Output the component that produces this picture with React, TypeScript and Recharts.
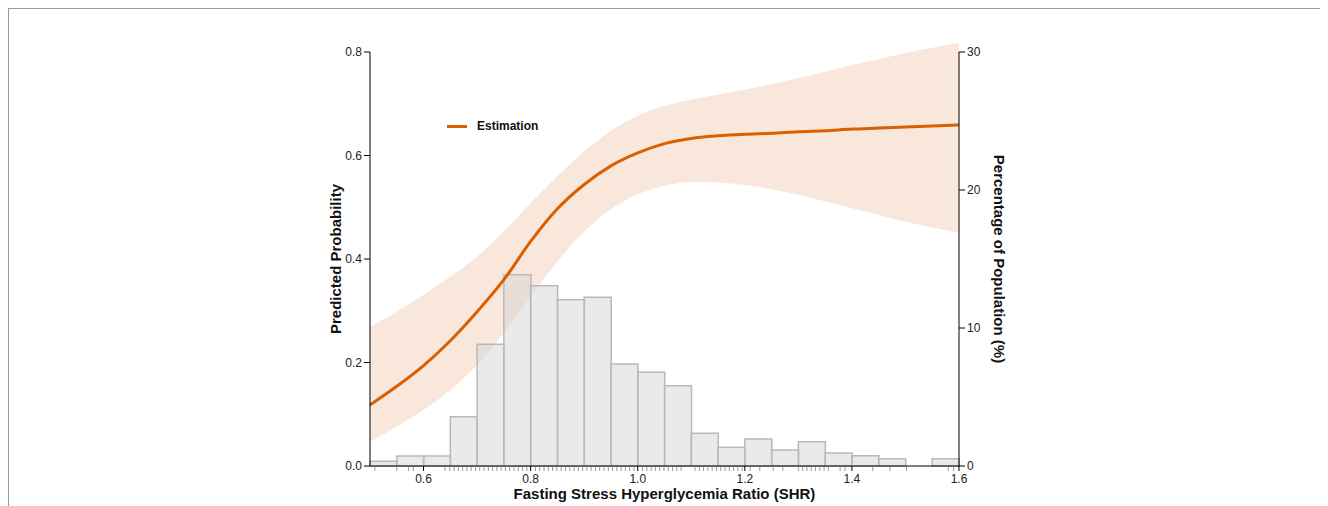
import { Area, Bar, ComposedChart, Label, Legend, Line, XAxis, YAxis } from "recharts";

// predicted probability curve + 95% band, sampled along SHR
const shr = [0.5, 0.55, 0.6, 0.65, 0.7, 0.75, 0.8, 0.85, 0.9, 0.95, 1.0, 1.05, 1.1, 1.15, 1.2, 1.25, 1.3, 1.35, 1.4, 1.45, 1.5, 1.55, 1.6];
const estimate = [0.118, 0.154, 0.194, 0.242, 0.298, 0.36, 0.434, 0.497, 0.544, 0.58, 0.605, 0.623, 0.633, 0.638, 0.641, 0.643, 0.646, 0.648, 0.651, 0.653, 0.655, 0.657, 0.659];
const upper = [0.269, 0.298, 0.331, 0.366, 0.405, 0.453, 0.508, 0.56, 0.608, 0.648, 0.677, 0.696, 0.708, 0.718, 0.727, 0.738, 0.75, 0.762, 0.775, 0.786, 0.798, 0.808, 0.818];
const lower = [0.047, 0.076, 0.108, 0.147, 0.195, 0.257, 0.327, 0.395, 0.453, 0.496, 0.525, 0.541, 0.549, 0.548, 0.543, 0.535, 0.524, 0.511, 0.498, 0.485, 0.472, 0.461, 0.451];

// histogram (bin centres, % of population)
const binCenters = [0.525, 0.575, 0.625, 0.675, 0.725, 0.775, 0.825, 0.875, 0.925, 0.975, 1.025, 1.075, 1.125, 1.175, 1.225, 1.275, 1.325, 1.375, 1.425, 1.475, 1.525, 1.575];
const binPct = [0.34, 0.72, 0.72, 3.57, 8.82, 13.86, 13.07, 12.05, 12.22, 7.39, 6.79, 5.82, 2.37, 1.36, 1.96, 1.16, 1.76, 0.94, 0.75, 0.53, 0, 0.53];

// axis ticks and rug marks
const xMajor = [0.6, 0.8, 1.0, 1.2, 1.4, 1.6];
const rug = [
  0.509, 0.55, 0.572, 0.581, 0.64, 0.649, 0.657, 0.665, 0.673, 0.681, 0.689, 0.697, 0.705, 0.713, 0.721, 0.729,
  0.737, 0.745, 0.753, 0.761, 0.769, 0.777, 0.785, 0.793, 0.809, 0.817, 0.825, 0.833, 0.841, 0.849, 0.857,
  0.865, 0.873, 0.881, 0.889, 0.897, 0.905, 0.913, 0.921, 0.929, 0.937, 0.945, 0.953, 0.961, 0.969, 0.977,
  0.985, 0.993, 1.009, 1.017, 1.025, 1.033, 1.041, 1.049, 1.057, 1.065, 1.073, 1.081, 1.107, 1.115, 1.123,
  1.131, 1.139, 1.147, 1.155, 1.163, 1.171, 1.179, 1.187, 1.195, 1.21, 1.228, 1.253, 1.271, 1.3, 1.308,
  1.316, 1.324, 1.332, 1.34, 1.348, 1.356, 1.378, 1.387, 1.439, 1.471, 1.502, 1.58, 1.59,
];
const leftTicks = [0, 0.2, 0.4, 0.6, 0.8];
const rightTicks = [0, 10, 20, 30];

const curveData = shr.map((x, i) => ({ x, est: estimate[i], band: [lower[i], upper[i]] }));
const histData = binCenters.map((x, i) => ({ x, pct: binPct[i] }));

const FONT = '"Liberation Sans", Arial, Helvetica, sans-serif';
const ORANGE = "#d95f02";
const titleStyle = { fontSize: 15, fontWeight: "bold", fill: "#111", fontFamily: FONT };

function XTick(props: any) {
  const { x, y, payload } = props;
  const v = payload.value;
  const axisY = y - 8;
  if (xMajor.includes(v)) {
    return (
      <g>
        <line x1={x} x2={x} y1={axisY} y2={axisY + 5} stroke="#000" />
        <text x={x} y={axisY + 17} textAnchor="middle" fontSize={12} fill="#222" fontFamily={FONT}>
          {v.toFixed(1)}
        </text>
      </g>
    );
  }
  return <line x1={x} x2={x} y1={axisY + 1} y2={axisY + 5} stroke="#9a9a9a" />;
}

function LegendBox() {
  return (
    <div style={{ display: "flex", alignItems: "center", fontFamily: FONT, height: 16 }}>
      <div style={{ width: 20, height: 3, background: ORANGE }} />
      <span style={{ marginLeft: 10, fontSize: 12, fontWeight: "bold", color: "#111" }}>Estimation</span>
    </div>
  );
}

export default function App() {
  return (
    <div style={{ borderTop: "1px solid #999", borderLeft: "1px solid #999", width: 1320, height: 498 }}>
      {/* the confidence band runs past 0.8 at the right edge, as in the source figure */}
      <style>{`.recharts-area, .recharts-area * { clip-path: none !important; }`}</style>
      <ComposedChart
        width={1311}
        height={497}
        data={histData}
        margin={{ top: 43, right: 301, bottom: 0, left: 301 }}
        barCategoryGap={0}
        barGap={0}
        style={{ fontFamily: FONT }}
      >
        <XAxis xAxisId="bins" dataKey="x" type="number" domain={[0.5, 1.6]} orientation="top" height={0} hide />
        <XAxis
          xAxisId="x"
          dataKey="x"
          type="number"
          domain={[0.5, 1.6]}
          ticks={[...xMajor, ...rug]}
          interval={0}
          height={40}
          tickSize={6}
          tickMargin={2}
          tickLine={false}
          axisLine={{ stroke: "#000" }}
          tick={<XTick />}
        >
          <Label value="Fasting Stress Hyperglycemia Ratio (SHR)" position="insideBottom" offset={7} style={titleStyle} />
        </XAxis>
        <YAxis
          yAxisId="left"
          domain={[0, 0.8]}
          ticks={leftTicks}
          allowDataOverflow
          width={60}
          tickFormatter={(v: number) => v.toFixed(1)}
          tick={{ fontSize: 12, fill: "#222" }}
          tickLine={{ stroke: "#000" }}
          axisLine={{ stroke: "#000" }}
        >
          <Label
            value="Predicted Probability"
            angle={-90}
            position="insideLeft"
            offset={26}
            style={{ ...titleStyle, textAnchor: "middle" }}
          />
        </YAxis>
        <YAxis
          yAxisId="right"
          orientation="right"
          domain={[0, 30]}
          ticks={rightTicks}
          width={60}
          tick={{ fontSize: 12, fill: "#222" }}
          tickLine={{ stroke: "#000" }}
          axisLine={{ stroke: "#000" }}
        >
          <Label
            value="Percentage of Population (%)"
            angle={90}
            position="insideRight"
            offset={20}
            style={{ ...titleStyle, textAnchor: "middle" }}
          />
        </YAxis>
        <Legend
          layout="vertical"
          align="center"
          verticalAlign="middle"
          content={<LegendBox />}
          wrapperStyle={{ left: 438, top: 109, width: 120 }}
        />
        <Bar
          xAxisId="bins"
          yAxisId="right"
          dataKey="pct"
          fill="#d6d6d6"
          fillOpacity={0.5}
          stroke="#b9b9b9"
          strokeWidth={1.5}
          legendType="none"
          isAnimationActive={false}
        />
        <Area
          data={curveData}
          xAxisId="x"
          yAxisId="left"
          type="monotone"
          dataKey="band"
          stroke="none"
          fill="#e8894a"
          fillOpacity={0.2}
          legendType="none"
          isAnimationActive={false}
        />
        <Line
          data={curveData}
          xAxisId="x"
          yAxisId="left"
          type="monotone"
          dataKey="est"
          stroke={ORANGE}
          strokeWidth={3}
          dot={false}
          name="Estimation"
          isAnimationActive={false}
        />
      </ComposedChart>
    </div>
  );
}
